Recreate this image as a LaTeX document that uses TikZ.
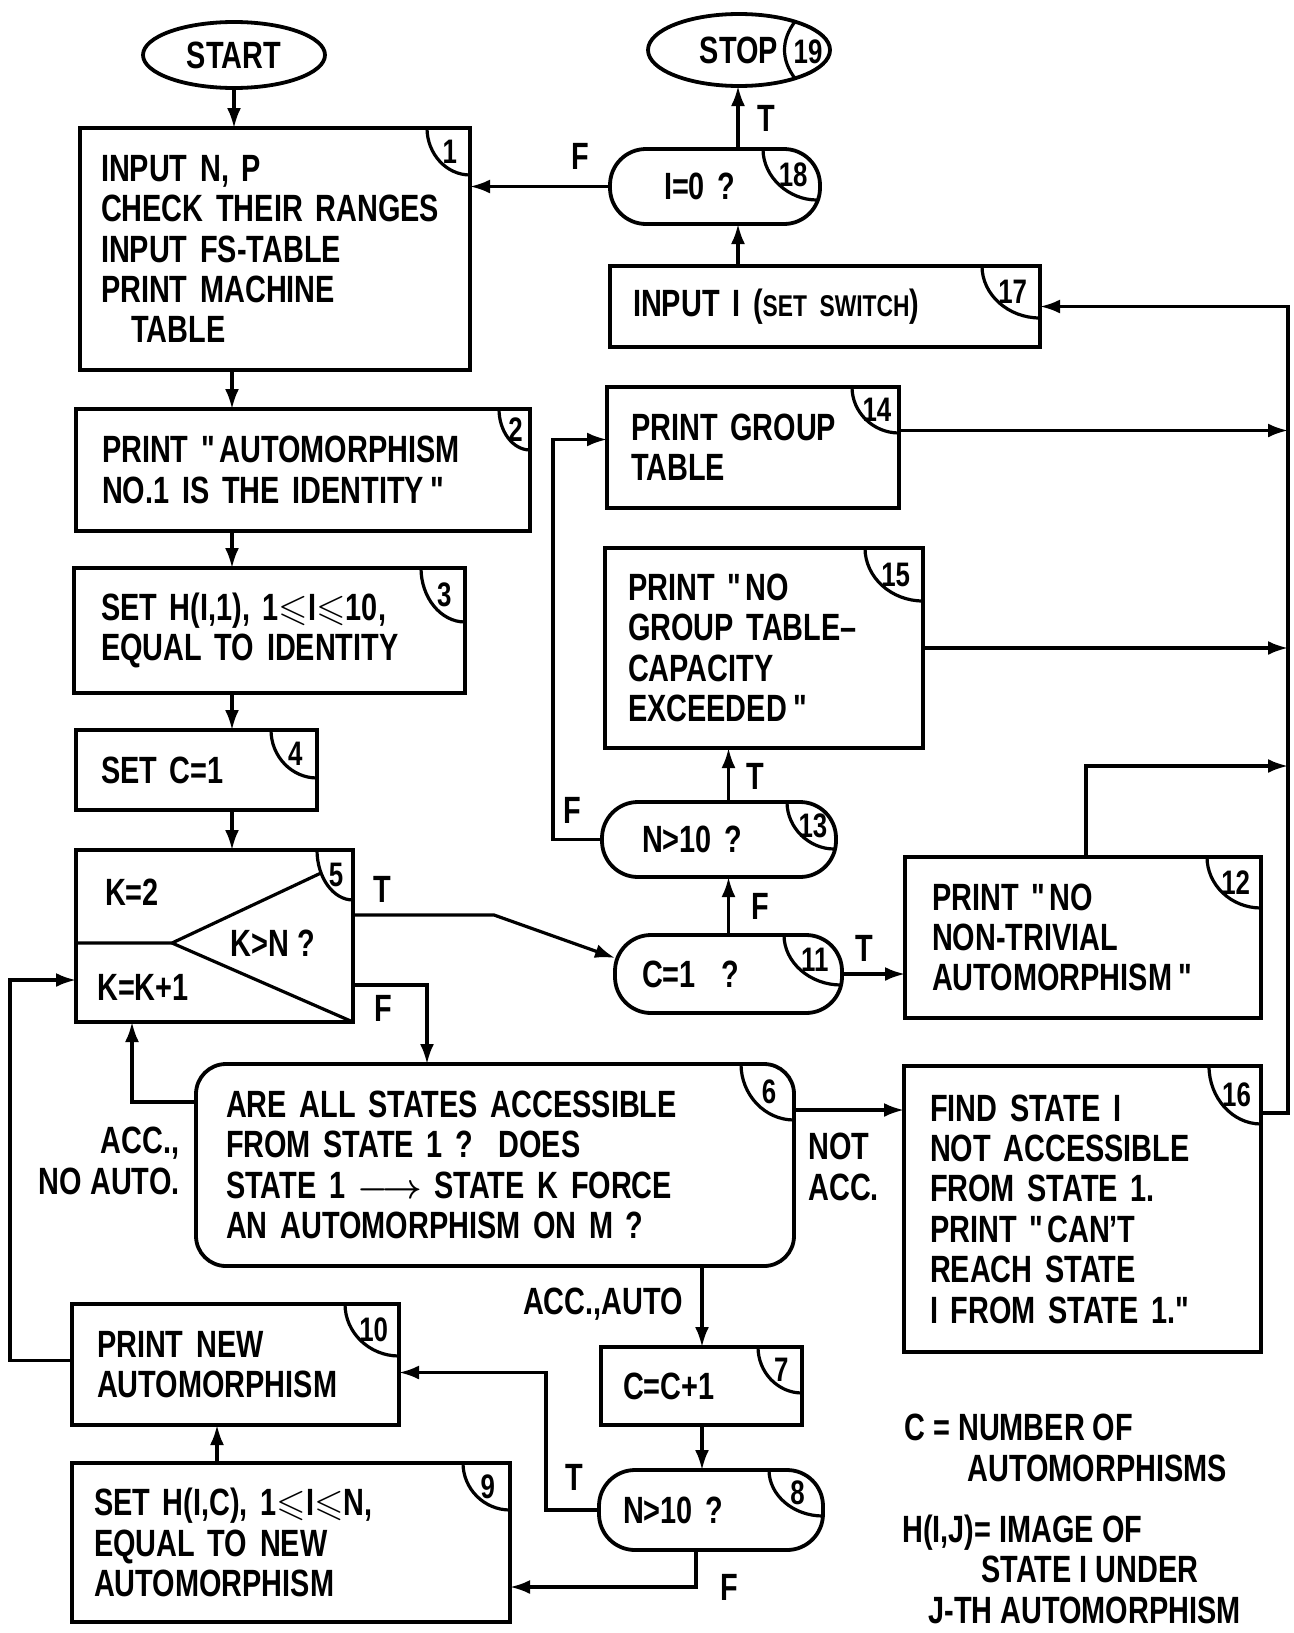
\documentclass[tikz,border=0pt]{standalone}
\usepackage{amsmath,amssymb}
\usepackage{fontspec}
\setmainfont{Liberation Sans}[FakeStretch=0.76]
\usepackage{tikz}
\usetikzlibrary{arrows.meta,positioning,shapes.geometric,calc}
\newcommand{\boxfont}{\fontsize{19}{20.2}\selectfont\bfseries}
\newcommand{\tagfont}{\fontsize{17}{17}\selectfont\bfseries}
\newcommand{\qq}{\textquotedbl}
\newcommand{\lesl}{$\leqslant$}
% corner tag: [inset]{node}{number}{x radius}{y radius}
\newcommand{\numtag}[5][0pt]{%
  \draw[tagline] ([xshift=-#4]#2.north east)
    .. controls ([xshift=-#4,yshift=-0.55*#5]#2.north east)
    and ([xshift=-0.55*#4,yshift=-#5]#2.north east)
    .. ([xshift=-#1,yshift=-#5]#2.north east);
  \node[tagnum] at ([xshift=-0.47*#4,yshift=-0.5*#5]#2.north east) {#3};}

\begin{document}
\begin{tikzpicture}[x=0.5pt,y=-0.5pt,
  box/.style={draw,line width=1.9pt,outer sep=0pt,inner ysep=0pt,align=left,
    text width=#1,font=\boxfont},
  decision/.style={box=#1,rounded corners=18pt},
  terminal/.style={draw,ellipse,line width=1.9pt,outer sep=0pt,inner sep=0pt,font=\boxfont},
  flow/.style={-{Latex[length=10pt,width=7pt]},line width=1.6pt},
  lbl/.style={font=\boxfont,inner sep=0pt},
  tagline/.style={line width=1.6pt},
  tagnum/.style={font=\tagfont,inner sep=0pt}]
\useasboundingbox (0,0) rectangle (1294,1633);

\node[terminal,minimum width=91pt,minimum height=33pt] (start) at (234,55) {START};
\node[terminal,minimum width=91pt,minimum height=36pt] (stop) at (739,50) {STOP\hspace{7pt}};
\node[box=174pt,inner xsep=10.5pt,minimum height=121pt] (b1) at (275,249)
  {INPUT N, P\\CHECK~THEIR~RANGES\\INPUT FS-TABLE\\PRINT MACHINE\\\hspace*{0.8em}TABLE};
\node[box=201pt,inner xsep=13pt,minimum height=61pt] (b2) at (303,470)
  {PRINT \qq AUTOMORPHISM\\NO.1 IS THE IDENTITY\,\qq};
\node[box=168.5pt,inner xsep=13.5pt,minimum height=62.5pt] (b3) at (269.5,630.5)
  {SET H(I,1), 1\lesl I\lesl 10,\\EQUAL TO IDENTITY};
\node[box=95.5pt,inner xsep=12.5pt,minimum height=40pt] (b4) at (196.5,770) {SET C=1};
\node[draw,line width=1.9pt,outer sep=0pt,minimum width=138.5pt,minimum height=86pt] (b5) at (214.5,936) {};
\node[box=269pt,inner xsep=15pt,minimum height=101pt,rounded corners=15pt] (b6) at (495,1165)
  {ARE ALL STATES ACCESSIBLE\\FROM STATE 1 ?\ \ DOES\\STATE 1 $\boldsymbol{\longrightarrow}$ STATE K FORCE\\AN AUTOMORPHISM ON M ?};
\node[box=78.5pt,inner xsep=11pt,minimum height=39pt] (b7) at (701.5,1386) {C=C+1};
\node[decision=88pt,inner xsep=12pt,minimum height=40pt] (b8) at (711,1510) {N>10 ?};
\node[box=197pt,inner xsep=11pt,minimum height=79.5pt] (b9) at (291,1542.5)
  {SET H(I,C), 1\lesl I\lesl N,\\EQUAL TO NEW\\AUTOMORPHISM};
\node[box=138.5pt,inner xsep=12.5pt,minimum height=60.5pt] (b10) at (235.5,1364.5)
  {PRINT NEW\\AUTOMORPHISM};
\node[decision=86.5pt,inner xsep=13.5pt,minimum height=39pt] (b11) at (728.5,974) {C=1~~?};
\node[box=151pt,inner xsep=13.5pt,minimum height=80.5pt] (b12) at (1083,937.5)
  {PRINT \qq NO\\NON-TRIVIAL\\AUTOMORPHISM\,\qq};
\node[decision=77pt,inner xsep=20pt,minimum height=37.5pt] (b13) at (719,839.5) {N>10 ?};
\node[box=122pt,inner xsep=12pt,minimum height=60.5pt] (b14) at (753,447.5) {PRINT GROUP\\TABLE};
\node[box=136pt,inner xsep=11.5pt,minimum height=100pt] (b15) at (764,648)
  {PRINT \qq NO\\GROUP TABLE--\\CAPACITY\\EXCEEDED\,\qq};
\node[box=152.5pt,inner xsep=13pt,minimum height=143pt] (b16) at (1082.5,1209)
  {FIND STATE I\\NOT ACCESSIBLE\\FROM STATE 1.\\PRINT \qq CAN'T\\REACH STATE\\I FROM STATE 1.\qq};
\node[box=192pt,inner xsep=11.5pt,minimum height=40.5pt] (b17) at (825,306.5)
  {INPUT I ({\fontsize{15}{15}\selectfont SET SWITCH})};
\node[decision=51pt,inner xsep=27pt,minimum height=37.5pt] (b18) at (715,186.5) {I=0 ?};

% loop box 5: init, test and increment parts
\coordinate (apex) at (172,943);
\coordinate (cut5) at (321,873);
\draw[tagline] (b5.west |- apex) -- (apex) -- (cut5);
\draw[tagline] (apex) -- (b5.south east);
\node[lbl] (k2) at (132,892) {K=2};
\node[lbl] (kgt) at (273,943) {K>N ?};
\node[lbl] (kinc) at (143,987) {K=K+1};

\numtag{b1}{1}{21.5pt}{23.5pt}
\numtag{b2}{2}{15.5pt}{20.5pt}
\numtag{b3}{3}{22pt}{27pt}
\numtag{b4}{4}{23pt}{24pt}
\numtag{b5}{5}{18pt}{25pt}
\numtag{b6}{6}{26.5pt}{28pt}
\numtag{b7}{7}{22pt}{23pt}
\numtag{b8}{8}{27pt}{23pt}
\numtag{b9}{9}{23.5pt}{23.5pt}
\numtag{b10}{10}{27pt}{26pt}
\numtag[0.5pt]{b11}{11}{29pt}{25pt}
\numtag{b12}{12}{27pt}{25.5pt}
\numtag[0.9pt]{b13}{13}{24.5pt}{23.5pt}
\numtag{b14}{14}{23.5pt}{23pt}
\numtag{b15}{15}{29pt}{26.5pt}
\numtag{b16}{16}{26pt}{29pt}
\numtag{b17}{17}{29pt}{26pt}
\numtag[1.6pt]{b18}{18}{28.5pt}{25.5pt}
\draw[tagline] ([xshift=28pt,yshift=14.2pt]stop.center)
  .. controls ([xshift=21pt,yshift=5pt]stop.center) and ([xshift=21pt,yshift=-5pt]stop.center)
  .. ([xshift=28pt,yshift=-14.2pt]stop.center);
\node[tagnum] at ([xshift=34.5pt,yshift=-1pt]stop.center) {19};

% columns and rail used by the connectors
\coordinate (colA) at (232,0);
\coordinate (colB) at (217,0);
\coordinate (colC) at (132,0);
\coordinate (colF) at (427,0);
\coordinate (colG) at (702,0);
\coordinate (colE) at (738,0);
\coordinate (rail) at (1288,0);
\coordinate (f8) at (696,1587);
\coordinate (j12) at (1086,766);

\draw[flow] (start.south) -- (start.south |- b1.north);
\foreach \u/\v in {b1/b2,b2/b3,b3/b4,b4/b5}
  \draw[flow] (colA |- \u.south) -- (colA |- \v.north);
\draw[flow] ([yshift=10.5pt]b5.east) -- ++(141,0) -- ([yshift=8pt]b11.west);
\draw[flow] ([yshift=-24.5pt]b5.east) -| (colF |- b6.north);
\draw[flow] ([yshift=31.5pt]b6.west) -| (colC |- b5.south);
\draw[flow] ([yshift=27.5pt]b6.east) -- ([yshift=27.5pt]b6.east -| b16.west);
\draw[flow] (colG |- b6.south) -- (colG |- b7.north);
\draw[flow] (colG |- b7.south) -- (colG |- b8.north);
\draw[flow] (f8 |- b8.south) -- (f8) -- (f8 -| b9.east);
\draw[flow] (b8.west) -- ++(-53,0) |- ([yshift=-4pt]b10.east);
\draw[flow] (colB |- b9.north) -- (colB |- b10.south);
\draw[flow] ([yshift=2pt]b10.west) -- ++(-62,0) |- ([yshift=-22pt]b5.west);
\draw[flow] (b11.north) -- (b11.north |- b13.south);
\draw[flow] (b11.east) -- (b11.east -| b12.west);
\draw[flow] (b11.north |- b13.north) -- (b11.north |- b15.south);
\draw[flow] (b13.west) -- ++(-49,0) |- ([yshift=4pt]b14.west);
\draw[flow] ([yshift=8.5pt]b14.east) -- ([yshift=8.5pt]b14.east -| rail);
\draw[flow] (b15.east) -- (b15.east -| rail);
\draw[flow] (b12.north -| j12) -- (j12) -- (j12 -| rail);
\draw[flow] ([yshift=48pt]b16.east) -| (rail |- b17.east) -- (b17.east);
\draw[flow] (colE |- b17.north) -- (colE |- b18.south);
\draw[flow] (colE |- b18.north) -- (colE |- stop.south);
\draw[flow] (b18.west) -- (b18.west -| b1.east);

\node[lbl] (t18) at (766,118) {T};
\node[lbl] (f18) at (580,156) {F};
\node[lbl] (t5) at (382,889) {T};
\node[lbl] (f5) at (383,1008) {F};
\node[lbl,align=right,anchor=east] (accno) at (180,1161) {ACC.,\\NO AUTO.};
\node[lbl,align=left,anchor=west] (notacc) at (808,1167) {NOT\\ACC.};
\node[lbl] (accauto) at (603,1304) {ACC.,AUTO};
\node[lbl] (t8) at (574,1477) {T};
\node[lbl] (f8lbl) at (729,1587) {F};
\node[lbl] (f13) at (572,810) {F};
\node[lbl] (t13) at (755,776) {T};
\node[lbl] (f11) at (760,906) {F};
\node[lbl] (t11) at (864,948) {T};

\node[lbl,align=left,anchor=west] (legC) at (904,1448)
  {C = NUMBER OF\\\hspace*{31.5pt}AUTOMORPHISMS};
\node[lbl,align=left,anchor=west] (legH) at (902,1569)
  {H(I,J)= IMAGE OF\\\hspace*{39.5pt}STATE I UNDER\\\hspace*{13pt}J-TH AUTOMORPHISM};
\end{tikzpicture}
\end{document}
